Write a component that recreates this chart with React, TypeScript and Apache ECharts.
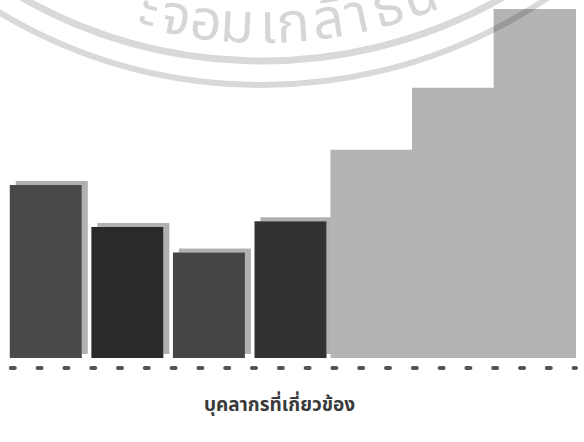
import React, { useEffect, useRef } from "react";
import * as echarts from "echarts";

const categories = ["1", "2", "3", "4", "5", "6", "7"];
const darkValues: (number | string)[] = [48.3, 36.6, 29.5, 38.2, "-", "-", "-"];
const lightValues: (number | string)[] = ["-", "-", "-", "-", 58.2, 75.5, 97.5];
const darkColors = ["#4a4a4a", "#2c2c2c", "#454545", "#313131"];
const axisTitle = "บุคลากรที่เกี่ยวข้อง";
const watermarkGlyphs = ["ะ", "จ", "อ", "ม", "เ", "ก", "ล้", "า", "ธ", "น"];
const watermarkX = [149, 176, 206, 237, 268, 293, 328, 357, 388, 420];

export default function App() {
  const ref = useRef<HTMLDivElement>(null);
  useEffect(() => {
    document.body.style.margin = "0";
    const chart = echarts.init(ref.current!, undefined, { renderer: "svg" });
    const cx = 262;
    const cy = -427;
    const rText = 453;
    const glyphs = watermarkGlyphs.map((g, i) => {
      const th = Math.asin((watermarkX[i] - cx) / rText);
      return {
        type: "text",
        x: cx + rText * Math.sin(th),
        y: cy + rText * Math.cos(th),
        rotation: th,
        z: 100,
        style: {
          text: g,
          fill: "rgba(0,0,0,0.16)",
          font: "56px 'Noto Sans Thai', 'Noto Sans', sans-serif",
          align: "center",
          verticalAlign: "middle",
        },
      };
    });
    const hiddenAxis = {
      type: "category",
      data: categories,
      axisTick: { show: false },
      axisLabel: { show: false },
      axisLine: { show: false },
    };
    chart.setOption({
      animation: false,
      backgroundColor: "#ffffff",
      grid: { left: 5, right: 8, top: 0, bottom: 84 },
      xAxis: [
        {
          type: "category",
          data: categories,
          offset: 10,
          axisTick: { show: false },
          axisLabel: { show: false },
          axisLine: {
            show: true,
            onZero: false,
            lineStyle: { color: "#555555", width: 4, type: [4, 22.8], dashOffset: 20.8 },
          },
          name: axisTitle,
          nameLocation: "middle",
          nameGap: 28,
          nameTextStyle: {
            color: "#3a3a3a",
            fontSize: 19,
            fontWeight: "bold",
            fontFamily: "'Noto Sans Thai', 'Noto Sans', sans-serif",
            padding: [0, 22, 0, 0],
          },
        },
        hiddenAxis,
      ],
      yAxis: { type: "value", min: 0, max: 100, show: false },
      series: [
        {
          type: "bar",
          xAxisIndex: 0,
          data: darkValues.map((v, i) => ({
            value: v,
            itemStyle: { color: darkColors[i] || "#333" },
          })),
          barWidth: 72,
          itemStyle: {
            shadowColor: "#b0b0b0",
            shadowOffsetX: 6,
            shadowOffsetY: -4,
            shadowBlur: 0,
          },
        },
        {
          type: "bar",
          xAxisIndex: 1,
          data: lightValues,
          barWidth: "102%",
          itemStyle: { color: "#b4b4b4" },
        },
      ],
      graphic: [
        {
          type: "circle",
          z: 100,
          shape: { cx, cy, r: 488 },
          style: { fill: "none", stroke: "rgba(0,0,0,0.15)", lineWidth: 7 },
        },
        {
          type: "circle",
          z: 100,
          shape: { cx, cy, r: 512 },
          style: { fill: "none", stroke: "rgba(0,0,0,0.15)", lineWidth: 6 },
        },
        ...glyphs,
      ],
    });
    return () => chart.dispose();
  }, []);
  return <div ref={ref} style={{ width: 584, height: 442 }} />;
}
